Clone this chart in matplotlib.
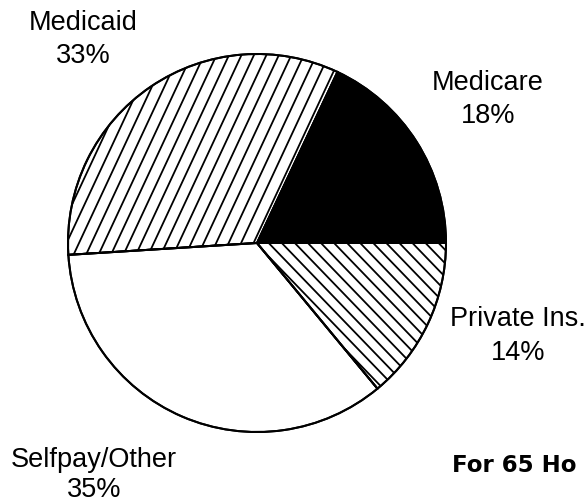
"""
Pie chart of payment sources, drawn in the old printed-report style:
solid black, two kinds of diagonal ruling and a plain white wedge.
"""
import numpy as np
import matplotlib
matplotlib.use("Agg")
import matplotlib.pyplot as plt
from matplotlib.patches import Wedge

W, H = 586, 504
DPI = 100

# --- data ---
sources = ["Medicare", "Medicaid", "Selfpay/Other", "Private Ins."]
shares = [18, 33, 35, 14]          # percent, counter-clockwise from 3 o'clock

# --- layout (pixel coordinates, y measured from the top) ---
CENTER = (257, 243)
RADIUS = 189
# (x centre, baseline of name line, baseline of percent line)
label_pos = {
    "Medicare": (488, 90, 123),
    "Medicaid": (83, 30, 63),
    "Selfpay/Other": (94, 467, 497),
    "Private Ins.": (518, 326, 360),
}
# ruling per wedge: (angle in degrees, perpendicular spacing in px) or None
ruling = {
    "Medicare": None,
    "Medicaid": (65, 11.3),
    "Selfpay/Other": None,
    "Private Ins.": (-46, 9.4),
}
faces = {"Medicare": "black", "Medicaid": "white",
         "Selfpay/Other": "white", "Private Ins.": "white"}

PX = 72 / DPI            # one pixel in points
HATCH_LW = 1.8 * PX
EDGE_LW = 2.0 * PX


def flip(y):
    return H - y


def rule_wedge(ax, wedge, angle, spacing, cx, cy, r):
    """Fill a wedge with parallel lines, clipped to the wedge outline."""
    t = np.deg2rad(angle)
    d = np.array([np.cos(t), np.sin(t)])        # line direction
    n = np.array([-np.sin(t), np.cos(t)])       # normal
    for off in np.arange(-r - spacing, r + spacing, spacing):
        p0 = np.array([cx, cy]) + n * off - d * (r + 5)
        p1 = np.array([cx, cy]) + n * off + d * (r + 5)
        ln, = ax.plot([p0[0], p1[0]], [p0[1], p1[1]], color="black",
                      lw=HATCH_LW, solid_capstyle="butt", zorder=2)
        ln.set_clip_path(wedge)


fig = plt.figure(figsize=(W / DPI, H / DPI), dpi=DPI)
ax = fig.add_axes([0, 0, 1, 1])

cx, cy = CENTER[0], flip(CENTER[1])
wedges, _ = ax.pie(shares, startangle=0, counterclock=True,
                   center=(cx, cy), radius=RADIUS,
                   colors=[faces[s] for s in sources],
                   wedgeprops=dict(edgecolor="black", linewidth=EDGE_LW),
                   frame=False)
for w in wedges:
    w.set_zorder(1)

for name, w in zip(sources, wedges):
    if ruling[name]:
        ang, sp = ruling[name]
        rule_wedge(ax, w, ang, sp, cx, cy, RADIUS)

# outlines again on top of the ruling
for w in wedges:
    ax.add_patch(Wedge(w.center, w.r, w.theta1, w.theta2, facecolor="none",
                       edgecolor="black", linewidth=EDGE_LW, zorder=3))

ax.set_xlim(0, W)
ax.set_ylim(0, H)
ax.set_aspect("auto")
ax.axis("off")

font = dict(family=["Liberation Sans", "DejaVu Sans"], fontsize=19.5,
            color="black", ha="center", va="baseline")
for name, pct in zip(sources, shares):
    x, yb1, yb2 = label_pos[name]
    ax.text(x, flip(yb1), name, **font)
    ax.text(x, flip(yb2), f"{pct}%", **font)

ax.text(452, flip(472), "For 65 Ho", family="DejaVu Sans", fontweight="bold",
        fontsize=16.5, ha="left", va="baseline", color="black")

fig.savefig("out.png", dpi=DPI, facecolor="white")
